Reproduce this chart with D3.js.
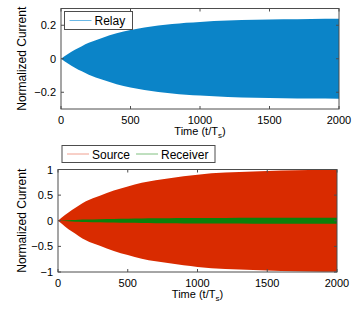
<!DOCTYPE html>
<html>
<head>
<meta charset="utf-8">
<script src="https://cdn.jsdelivr.net/npm/d3@7"></script>
<style>
  body { margin: 0; background: #fff; }
  text { font-family: "Liberation Sans", Arial, sans-serif; }
</style>
</head>
<body>
<svg id="chart" width="360" height="309"></svg>
<script>
// envelope of the oscillating currents
var time = [0, 50, 100, 150, 200, 300, 400, 500, 600, 700, 800, 900, 1000, 1200, 1400, 1600, 1800, 2000];
var relayAmp = [0, 0.028, 0.053, 0.075, 0.095, 0.126, 0.152, 0.171, 0.186, 0.198, 0.207, 0.215, 0.220, 0.228, 0.233, 0.236, 0.238, 0.239];
var sourceAmp = [0, 0.11, 0.21, 0.30, 0.38, 0.49, 0.59, 0.67, 0.74, 0.79, 0.83, 0.87, 0.90, 0.94, 0.96, 0.98, 0.99, 0.997];
var receiverAmp = [0, 0.007, 0.013, 0.018, 0.023, 0.030, 0.035, 0.040, 0.044, 0.047, 0.050, 0.052, 0.054, 0.056, 0.058, 0.059, 0.060, 0.060];

var xTicks = [0, 500, 1000, 1500, 2000];
var yTicksTop = [-0.2, 0, 0.2];
var yTicksBottom = [-1, -0.5, 0, 0.5, 1];

var svg = d3.select("#chart");
var axisColor = "#4d4d4d";

function panel(p) {
    var x = d3.scaleLinear().domain([0, 2000]).range([p.left, p.right]);
    var y = d3.scaleLinear().domain(p.ydom).range([p.bottom, p.top]);
    var g = svg.append("g");

    // filled envelopes
    p.series.forEach(function (s) {
        var area = d3.area()
            .x(function (d, i) { return x(time[i]); })
            .y0(function (d) { return y(-d); })
            .y1(function (d) { return y(d); })
            .curve(d3.curveMonotoneX);
        g.append("path")
            .datum(s.amp)
            .attr("d", area)
            .attr("fill", s.color);
    });

    // box
    g.append("rect")
        .attr("x", p.left).attr("y", p.top)
        .attr("width", p.right - p.left).attr("height", p.bottom - p.top)
        .attr("fill", "none").attr("stroke", axisColor).attr("stroke-width", 1);

    // ticks inward on all sides
    var tl = 3;
    xTicks.forEach(function (t) {
        g.append("line").attr("x1", x(t)).attr("x2", x(t)).attr("y1", p.bottom).attr("y2", p.bottom - tl).attr("stroke", axisColor);
        g.append("line").attr("x1", x(t)).attr("x2", x(t)).attr("y1", p.top).attr("y2", p.top + tl).attr("stroke", axisColor);
        g.append("text")
            .attr("x", x(t)).attr("y", p.bottom + 15)
            .attr("text-anchor", "middle").attr("font-size", "11px")
            .text(t);
    });
    p.yticks.forEach(function (t) {
        g.append("line").attr("x1", p.left).attr("x2", p.left + tl).attr("y1", y(t)).attr("y2", y(t)).attr("stroke", axisColor);
        g.append("line").attr("x1", p.right).attr("x2", p.right - tl).attr("y1", y(t)).attr("y2", y(t)).attr("stroke", axisColor);
        g.append("text")
            .attr("x", p.left - 5).attr("y", y(t) + 4)
            .attr("text-anchor", "end").attr("font-size", "11px")
            .text(t < 0 ? "\u2212" + Math.abs(t) : t);
    });

    // axis labels
    var xl = g.append("text")
        .attr("x", (p.left + p.right) / 2).attr("y", p.bottom + 26)
        .attr("text-anchor", "middle").attr("font-size", "11px");
    xl.append("tspan").text("Time (t/T");
    xl.append("tspan").attr("font-size", "8px").attr("dy", 3).text("s");
    xl.append("tspan").attr("dy", -3).text(")");

    g.append("text")
        .attr("transform", "translate(" + 25.5 + "," + ((p.top + p.bottom) / 2) + ") rotate(-90)")
        .attr("text-anchor", "middle").attr("font-size", "12px")
        .text("Normalized Current");

    // legend
    var lg = g.append("g");
    lg.append("rect")
        .attr("x", p.legend.x).attr("y", p.legend.y)
        .attr("width", p.legend.w).attr("height", p.legend.h)
        .attr("fill", "#fff").attr("stroke", axisColor);
    var cx = p.legend.x + 5;
    var cy = p.legend.y + p.legend.h / 2;
    p.series.forEach(function (s) {
        lg.append("line")
            .attr("x1", cx).attr("x2", cx + 22).attr("y1", cy).attr("y2", cy)
            .attr("stroke", s.light).attr("stroke-width", 1);
        var tx = lg.append("text")
            .attr("x", cx + 25).attr("y", cy + 4.5)
            .attr("font-size", "12px")
            .text(s.name);
        cx += 25 + tx.node().getComputedTextLength() + 6;
    });
}

panel({
    left: 61, right: 339, top: 8.5, bottom: 109,
    ydom: [-0.3, 0.3], yticks: yTicksTop,
    series: [{ name: "Relay", amp: relayAmp, color: "#0b84c8", light: "#6ab8e6" }],
    legend: { x: 64.5, y: 11.5, w: 68, h: 18 }
});

panel({
    left: 58, right: 337, top: 169.5, bottom: 272,
    ydom: [-1, 1], yticks: yTicksBottom,
    series: [
        { name: "Source", amp: sourceAmp, color: "#d92b00", light: "#f0a090" },
        { name: "Receiver", amp: receiverAmp, color: "#0b800b", light: "#80c080" }
    ],
    legend: { x: 62, y: 145.5, w: 153, h: 17 }
});
</script>
</body>
</html>
